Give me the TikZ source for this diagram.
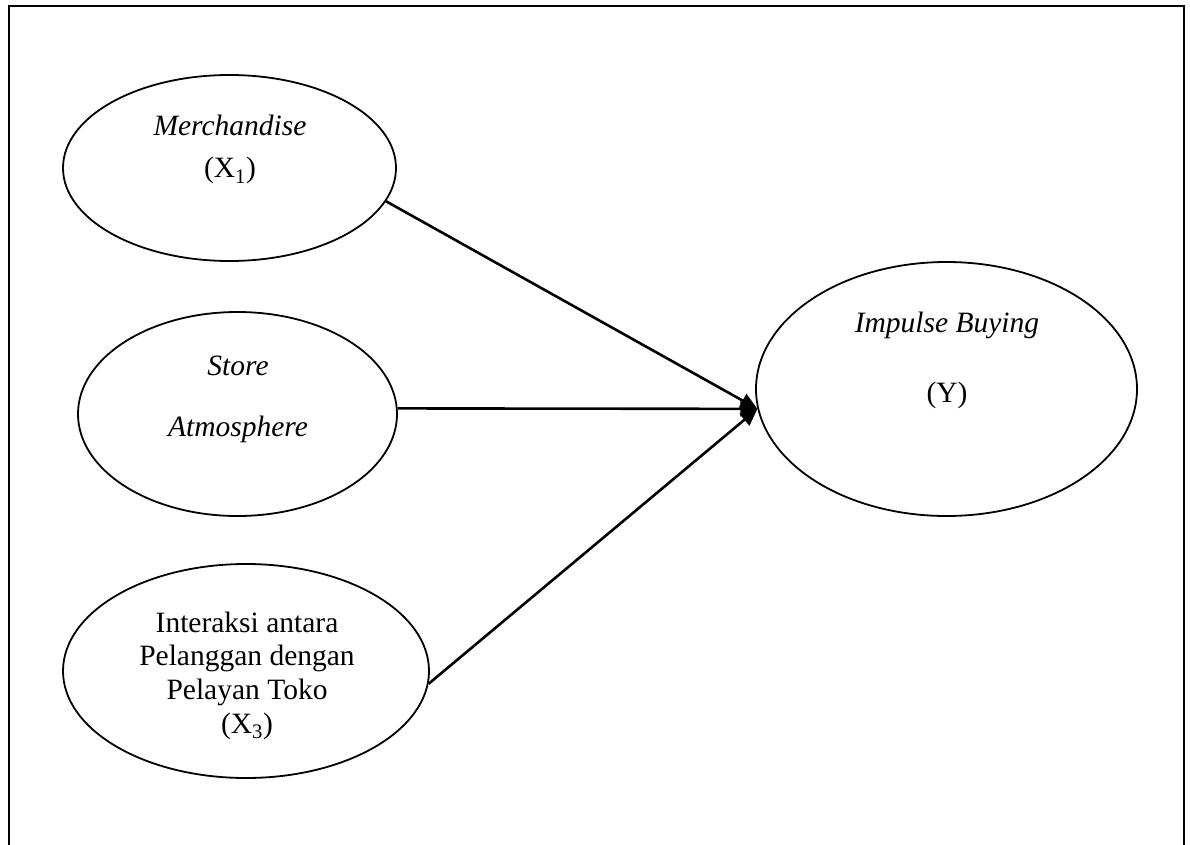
\documentclass[tikz,border=0pt]{standalone}
\usepackage{fontspec}
\setmainfont{Liberation Serif}
\usetikzlibrary{shapes.geometric,arrows.meta}
\tikzset{
  var/.style={draw, ellipse, inner sep=0pt, line width=1.8pt},
  lbl/.style={anchor=base, inner sep=0pt, font=\fontsize{29.5}{33}\selectfont},
  link/.style={line width=2.6pt, -{Triangle[length=17pt,width=15pt]}},
  frame/.style={line width=2.2pt}
}
\begin{document}
\begin{tikzpicture}[x=1pt,y=-1pt]
\useasboundingbox (0,0) rectangle (1190,845);
\draw[frame] (9,845) -- (9,6) -- (1184,6) -- (1184,845);

\node[var, minimum width=333pt, minimum height=186pt] (e1) at (229.5,168) {};
\node[var, minimum width=319pt, minimum height=204pt] (e2) at (237.5,414) {};
\node[var, minimum width=366pt, minimum height=214pt] (e3) at (246,671) {};
\node[var, minimum width=381pt, minimum height=254pt] (e4) at (946.5,389) {};

\node[lbl] (t1a) at (230,136) {\textit{Merchandise}};
\node[lbl] (t1b) at (230,178) {(X\textsubscript{1})};
\node[lbl] (t2a) at (238,375) {\textit{Store}};
\node[lbl] (t2b) at (238,436) {\textit{Atmosphere}};
\node[lbl] (t3a) at (247,632) {Interaksi antara};
\node[lbl] (t3b) at (247,665) {Pelanggan dengan};
\node[lbl] (t3c) at (247,699) {Pelayan Toko};
\node[lbl] (t3d) at (247,733) {(X\textsubscript{3})};
\node[lbl] (t4a) at (947,332) {\textit{Impulse Buying}};
\node[lbl] (t4b) at (947,402) {(Y)};

\draw[link] (e1.-12) -- (e4.186);
\draw[link] (e2.2) -- (e4.186);
\draw[link] (e3.-4) -- (e4.186);
\end{tikzpicture}
\end{document}
